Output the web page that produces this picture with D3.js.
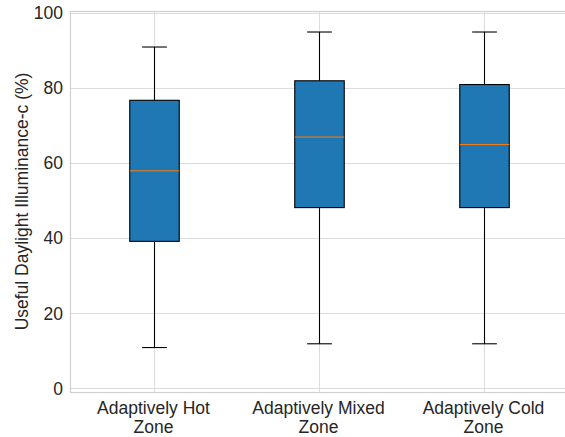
<!DOCTYPE html>
<html><head><meta charset="utf-8">
<script src="https://cdn.jsdelivr.net/npm/d3@7"></script>
<style>body{margin:0;background:#fff}svg{display:block}</style>
</head><body>
<script>
const categories = ["Adaptively Hot\nZone", "Adaptively Mixed\nZone", "Adaptively Cold\nZone"];
const whiskerLow = [10.9, 11.9, 11.9];
const q1 = [39.2, 48.2, 48.2];
const median = [58.0, 67.0, 65.0];
const q3 = [76.8, 82.0, 81.0];
const whiskerHigh = [91.0, 95.0, 95.0];
const yTicks = [0, 20, 40, 60, 80, 100];
const yLabel = "Useful Daylight Illuminance-c (%)";

const W = 565, H = 437;
const m = {left: 71, right: -1, top: 11, bottom: 45};
const svg = d3.select("body").append("svg").attr("width", W).attr("height", H);
const font = "Liberation Sans, Arial, sans-serif";

const x = d3.scaleLinear().domain([0.5, 3.5]).range([m.left, W - m.right]);
const y = d3.scaleLinear().domain([-0.95, 100.6]).range([H - m.bottom, m.top]);

const g = svg.append("g");
// grid
g.selectAll(".hg").data(yTicks).enter().append("line")
  .attr("x1", m.left).attr("x2", W - m.right)
  .attr("y1", d => Math.round(y(d)) + 0.5).attr("y2", d => Math.round(y(d)) + 0.5)
  .attr("stroke", "#dcdcdc").attr("stroke-width", 1);
g.selectAll(".vg").data(categories).enter().append("line")
  .attr("x1", (d, i) => Math.round(x(i + 1)) + 0.5).attr("x2", (d, i) => Math.round(x(i + 1)) + 0.5)
  .attr("y1", m.top).attr("y2", H - m.bottom)
  .attr("stroke", "#dcdcdc").attr("stroke-width", 1);
// spines
g.append("rect").attr("x", m.left - 0.5).attr("y", m.top + 0.5)
  .attr("width", W - m.right - m.left + 1).attr("height", H - m.bottom - m.top)
  .attr("fill", "none").attr("stroke", "#d0d0d0").attr("stroke-width", 1.2);

// y ticks
g.selectAll(".yt").data(yTicks).enter().append("text")
  .attr("x", m.left - 8).attr("y", d => y(d)).attr("dy", "0.35em")
  .attr("text-anchor", "end").attr("font-family", font).attr("font-size", "17.5px")
  .attr("fill", "#262626").text(d => d);

// x labels
categories.forEach((c, i) => {
  const t = g.append("text").attr("x", x(i + 1)).attr("y", H - m.bottom + 22)
    .attr("text-anchor", "middle").attr("font-family", font).attr("font-size", "17.5px").attr("fill", "#262626");
  c.split("\n").forEach((ln, j) => {
    t.append("tspan").attr("x", x(i + 1)).attr("dy", j === 0 ? 0 : 19).text(ln);
  });
});

// y label
svg.append("text").attr("transform", `translate(28,${(m.top + H - m.bottom) / 2}) rotate(-90)`)
  .attr("text-anchor", "middle").attr("font-family", font).attr("font-size", "17.5px")
  .attr("fill", "#262626").text(yLabel);

// boxes
const bw = (x(1.25) - x(1)) * 0.6; // half width 0.15 units -> box width 0.3
const boxHalf = (x(1) - x(0.5)) * 0.3;
const capHalf = boxHalf / 2;
categories.forEach((c, i) => {
  const cx = Math.round(x(i + 1)) + 0.5;
  const bg = g.append("g");
  bg.append("line").attr("x1", cx).attr("x2", cx).attr("y1", y(whiskerLow[i])).attr("y2", y(q1[i]))
    .attr("stroke", "#000").attr("stroke-width", 1.1);
  bg.append("line").attr("x1", cx).attr("x2", cx).attr("y1", y(q3[i])).attr("y2", y(whiskerHigh[i]))
    .attr("stroke", "#000").attr("stroke-width", 1.1);
  [whiskerLow[i], whiskerHigh[i]].forEach(v => {
    bg.append("line").attr("x1", cx - capHalf).attr("x2", cx + capHalf)
      .attr("y1", y(v)).attr("y2", y(v)).attr("stroke", "#000").attr("stroke-width", 1.1);
  });
  bg.append("rect").attr("x", cx - boxHalf).attr("y", y(q3[i]))
    .attr("width", boxHalf * 2).attr("height", y(q1[i]) - y(q3[i]))
    .attr("fill", "#1f77b4").attr("stroke", "#000").attr("stroke-width", 1.1);
  bg.append("line").attr("x1", cx - boxHalf).attr("x2", cx + boxHalf)
    .attr("y1", y(median[i])).attr("y2", y(median[i]))
    .attr("stroke", "#ff7f0e").attr("stroke-width", 1);
});
</script>
</body></html>
